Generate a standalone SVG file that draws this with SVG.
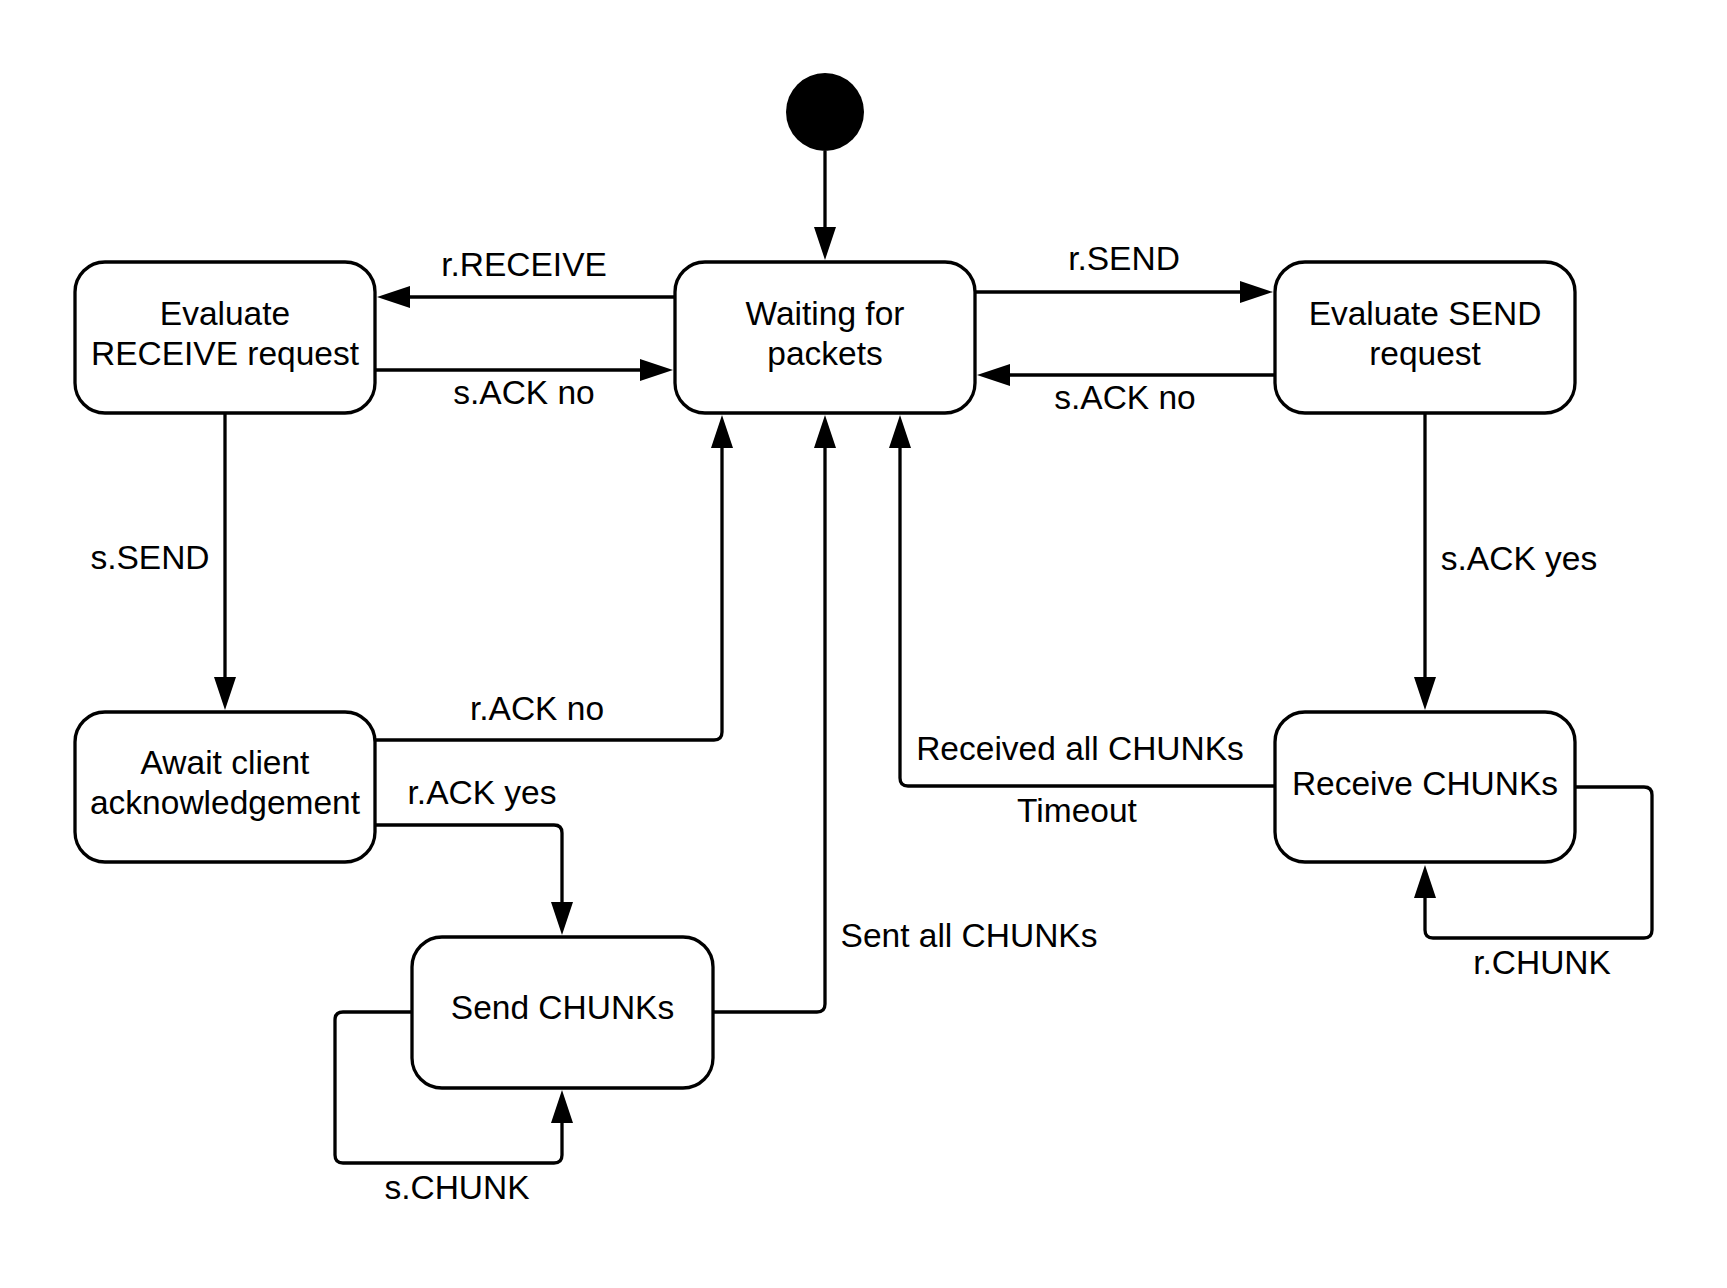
<svg xmlns="http://www.w3.org/2000/svg" width="1727" height="1288" viewBox="0 0 1727 1288">
  <style>
    .state { fill: #ffffff; stroke: #000000; stroke-width: 3.3; }
    .label { font-family: "Liberation Sans", Arial, sans-serif; font-size: 33.5px; fill: #000000; text-anchor: middle; }
    .edge { fill: none; stroke: #000000; stroke-width: 3.3; marker-end: url(#arrow); }
  </style>
  <defs>
    <marker id="arrow" markerUnits="userSpaceOnUse" markerWidth="33" markerHeight="22" refX="23" refY="11" orient="auto">
      <path d="M0,0 L33,11 L0,22 Z" fill="#000000"/>
    </marker>
  </defs>
  <rect width="1727" height="1288" fill="#ffffff"/>

  <!-- transitions -->
  <g id="connectors">
    <path class="edge" d="M825,151 V250"/>
    <path class="edge" d="M674,297 H387"/>
    <path class="edge" d="M376,370 H663"/>
    <path class="edge" d="M976,292 H1263"/>
    <path class="edge" d="M1274,375 H987"/>
    <path class="edge" d="M225,413 V700"/>
    <path class="edge" d="M1425,413 V700"/>
    <path class="edge" d="M376,740 H714 Q722,740 722,732 V425"/>
    <path class="edge" d="M376,825 H554 Q562,825 562,833 V925"/>
    <path class="edge" d="M714,1012 H817 Q825,1012 825,1004 V425"/>
    <path class="edge" d="M412,1012 H343 Q335,1012 335,1020 V1155 Q335,1163 343,1163 H554 Q562,1163 562,1155 V1100"/>
    <path class="edge" d="M1274,786 H908 Q900,786 900,778 V425"/>
    <path class="edge" d="M1576,787 H1644 Q1652,787 1652,795 V930 Q1652,938 1644,938 H1433 Q1425,938 1425,930 V875"/>

    <text class="label" x="524" y="276">r.RECEIVE</text>
    <text class="label" x="524" y="404">s.ACK no</text>
    <text class="label" x="1124" y="270">r.SEND</text>
    <text class="label" x="1125" y="409">s.ACK no</text>
    <text class="label" x="150" y="569">s.SEND</text>
    <text class="label" x="1519" y="570">s.ACK yes</text>
    <text class="label" x="537" y="720">r.ACK no</text>
    <text class="label" x="482" y="804">r.ACK yes</text>
    <text class="label" x="969" y="947">Sent all CHUNKs</text>
    <text class="label" x="457" y="1199">s.CHUNK</text>
    <text class="label" x="1080" y="760">Received all CHUNKs</text>
    <text class="label" x="1077" y="822">Timeout</text>
    <text class="label" x="1542" y="974">r.CHUNK</text>
  </g>

  <!-- initial pseudo-state -->
  <g id="start">
    <circle cx="825" cy="112" r="39" fill="#000000"/>
  </g>

  <g id="waiting">
    <rect class="state" x="675" y="262" width="300" height="151" rx="30"/>
    <text class="label" x="825" y="325">Waiting for</text>
    <text class="label" x="825" y="365">packets</text>
  </g>

  <g id="evaluate-receive">
    <rect class="state" x="75" y="262" width="300" height="151" rx="30"/>
    <text class="label" x="225" y="325">Evaluate</text>
    <text class="label" x="225" y="365">RECEIVE request</text>
  </g>

  <g id="evaluate-send">
    <rect class="state" x="1275" y="262" width="300" height="151" rx="30"/>
    <text class="label" x="1425" y="325">Evaluate SEND</text>
    <text class="label" x="1425" y="365">request</text>
  </g>

  <g id="await-ack">
    <rect class="state" x="75" y="712" width="300" height="150" rx="30"/>
    <text class="label" x="225" y="774">Await client</text>
    <text class="label" x="225" y="814">acknowledgement</text>
  </g>

  <g id="send-chunks">
    <rect class="state" x="412" y="937" width="301" height="151" rx="30"/>
    <text class="label" x="562.5" y="1019">Send CHUNKs</text>
  </g>

  <g id="receive-chunks">
    <rect class="state" x="1275" y="712" width="300" height="150" rx="30"/>
    <text class="label" x="1425" y="795">Receive CHUNKs</text>
  </g>
</svg>
